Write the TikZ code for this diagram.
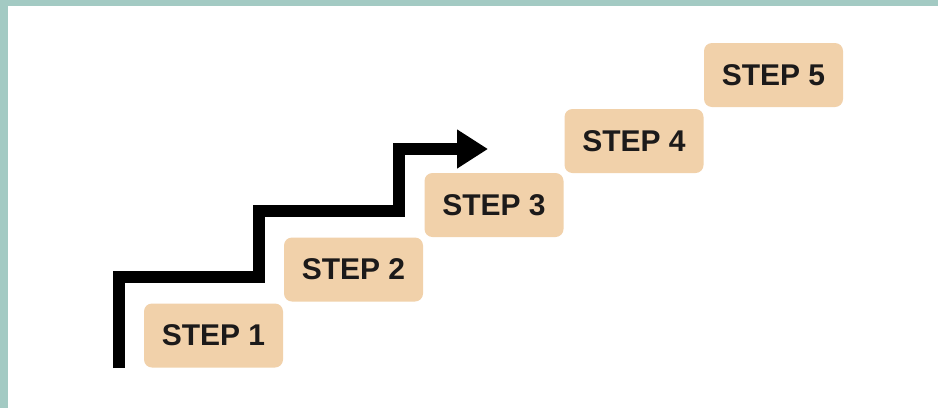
\documentclass[tikz,border=0pt]{standalone}
\usepackage{fontspec}
\setmainfont{Liberation Sans}
\usetikzlibrary{arrows.meta}
\definecolor{frame_teal}{HTML}{A3CAC3}
\definecolor{step_peach}{HTML}{F1D1AA}
\definecolor{step_ink}{HTML}{1C1A1A}
\tikzset{
	step_box/.style = {
		rectangle,
		rounded corners=8pt,
		fill=step_peach,
		text=step_ink,
		align=center,
		inner sep=0pt,
		minimum width=139pt,
		minimum height=64pt,
		font=\bfseries\fontsize{30}{30}\selectfont
	},
	stair_arrow/.style = {
		line width=12pt,
		miter limit=10,
		-{Triangle[length=31pt,width=37pt]}
	}
}

\begin{document}
\begin{tikzpicture}[x=1pt,y=-1pt]
\useasboundingbox (0,0) rectangle (938,408);
\fill[frame_teal] (0,0) rectangle (938,408);
\fill[white] (8,6) rectangle (938,408);
% steps
\node [step_box] (step1) at (213.5,335.5) {STEP 1};
\node [step_box] (step2) at (353.5,269.5) {STEP 2};
\node [step_box] (step3) at (494,205) {STEP 3};
\node [step_box] (step4) at (634,141) {STEP 4};
\node [step_box] (step5) at (773.5,75) {STEP 5};
% stair
\coordinate (stair_start) at (119,368);
\coordinate (stair_end) at (488,149);
\draw [stair_arrow] (stair_start) |- (259,277) |- (399,211) |- (stair_end);
\end{tikzpicture}
\end{document}
